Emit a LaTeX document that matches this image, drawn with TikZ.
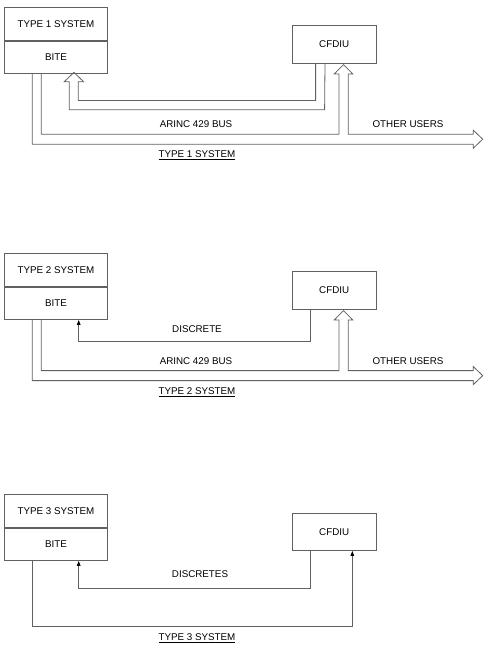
\documentclass[tikz,border=0pt]{standalone}
\usepackage{fontspec}
\setmainfont{Liberation Sans}
\usetikzlibrary{calc,arrows.meta}
\definecolor{ink}{gray}{0.38}
\tikzset{
  lbl/.style={font=\fontsize{9.8}{11}\selectfont, inner sep=0pt, text=black},
  unit/.style={draw=ink, line width=0.9pt, minimum width=102.4pt, minimum height=32.4pt,
               inner sep=0pt, lbl},
  lru/.style={draw=ink, line width=0.9pt, minimum width=83.7pt, minimum height=37.3pt,
              inner sep=0pt, lbl},
  pipe/.style={draw=ink, line width=0.8pt, line join=miter},
  sig/.style={draw=ink, line width=0.8pt, -{Triangle[length=5pt,width=3.6pt,color=black]}},
  wire/.style={draw=ink, line width=0.8pt},
}
\begin{document}
\begin{tikzpicture}[x=1pt,y=-1pt]
\useasboundingbox (0,0) rectangle (492,651);

% ---------------- Type 1 ----------------
\node[unit, anchor=north west] (sys1) at (4.3,7.3) {TYPE 1 SYSTEM};
\node[unit, anchor=north] (bite1) at (sys1.south) {BITE};
\node[lru] (cf1) at (334.2,44.3) {CFDIU};

% CFDIU to BITE bus (hollow arrow)
\draw[pipe] ($(cf1.south west)+(23.7,0)$) -- ++(0,37) -- ++(-237.3,0) -- ++(0,-18.7)
  -- ++(5.3,0) -- ++(-9.7,-9.3) -- ++(-9.6,9.3) -- ++(5,0) -- ++(0,28)
  -- ++(255.3,0) -- (cf1.south west -| 325,0);

% BITE to CFDIU and other users bus (hollow arrow)
\draw[pipe] ($(bite1.south west)+(37,0)$) -- ++(0,60.3) -- ++(297.7,0) -- ++(0,-60.3)
  -- ++(-4.7,0) -- ++(9.2,-9.3) -- ++(9.2,9.3) -- ++(-4.4,0) -- ++(0,60.3)
  -- ++(125,0) -- ++(0,-4) -- ++(9.4,9) -- ++(-9.4,9) -- ++(0,-4)
  -- ++(-441,0) -- ($(bite1.south west)+(28,0)$);

\node[lbl] (arinc1) at (196,124.3) {ARINC 429 BUS};
\node[lbl] (users1) at (408,124.3) {OTHER USERS};
\node[lbl] (cap1) at (197,155.3) {\underline{TYPE 1 SYSTEM}};

% ---------------- Type 2 ----------------
\node[unit, anchor=north west] (sys2) at (4.3,253.3) {TYPE 2 SYSTEM};
\node[unit, anchor=north] (bite2) at (sys2.south) {BITE};
\node[lru] (cf2) at (334.2,290.5) {CFDIU};

% discrete from CFDIU to BITE
\draw[sig] ($(cf2.south west)+(18.7,0)$) -- ++(0,32) -| ($(bite2.south west)+(74.4,0)$);

% BITE to CFDIU and other users bus (hollow arrow)
\draw[pipe] ($(bite2.south west)+(37,0)$) -- ++(0,50.7) -- ++(297.7,0) -- ++(0,-50.7)
  -- ++(-4.7,0) -- ++(9.2,-9.3) -- ++(9.2,9.3) -- ++(-4.4,0) -- ++(0,50.7)
  -- ++(125,0) -- ++(0,-4) -- ++(9.4,9) -- ++(-9.4,9) -- ++(0,-4)
  -- ++(-441,0) -- ($(bite2.south west)+(28,0)$);

\node[lbl] (disc2) at (197,328.7) {DISCRETE};
\node[lbl] (arinc2) at (196,361) {ARINC 429 BUS};
\node[lbl] (users2) at (408,361) {OTHER USERS};
\node[lbl] (cap2) at (197,392.3) {\underline{TYPE 2 SYSTEM}};

% ---------------- Type 3 ----------------
\node[unit, anchor=north west] (sys3) at (4.3,494.3) {TYPE 3 SYSTEM};
\node[unit, anchor=north] (bite3) at (sys3.south) {BITE};
\node[lru] (cf3) at (334.2,531.8) {CFDIU};

% discretes from CFDIU to BITE
\draw[sig] ($(cf3.south west)+(18.7,0)$) -- ++(0,37) -| ($(bite3.south west)+(74.4,0)$);
% discrete from BITE to CFDIU
\draw[sig] ($(bite3.south west)+(28,0)$) -- ++(0,65) -| ($(cf3.south west)+(60.4,0)$);

\node[lbl] (disc3) at (200,574.3) {DISCRETES};
\node[lbl] (cap3) at (197,638.3) {\underline{TYPE 3 SYSTEM}};
\end{tikzpicture}
\end{document}
